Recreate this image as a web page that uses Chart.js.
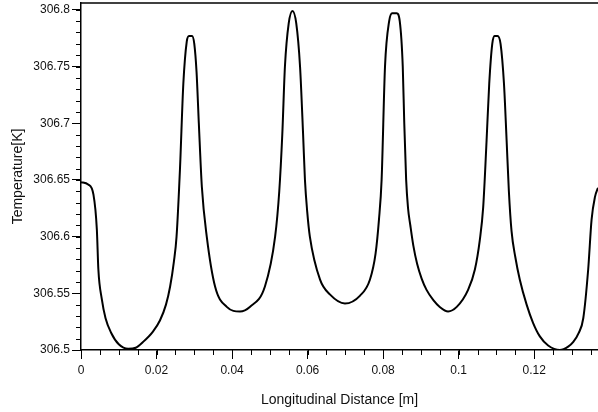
<!DOCTYPE html>
<html>
<head>
<meta charset="utf-8">
<script src="https://cdn.jsdelivr.net/npm/chart.js@4/dist/chart.umd.min.js"></script>
<style>
html,body{margin:0;padding:0;background:#fff;}
#c{display:block;}
</style>
</head>
<body>
<canvas id="c" width="598" height="412" style="width:598px;height:412px"></canvas>
<script>
// Longitudinal distance [m]
const distance = [0, 0.0019, 0.0033, 0.0042, 0.0046, 0.0055, 0.0065, 0.0080, 0.0100, 0.0125, 0.0145, 0.0164, 0.0190, 0.0209, 0.0225, 0.0236, 0.0246, 0.0253, 0.0262, 0.0271, 0.0280, 0.0286, 0.0294, 0.0300, 0.0306, 0.0312, 0.0320, 0.0333, 0.0355, 0.0386, 0.0421, 0.0447, 0.0487, 0.0514, 0.0525, 0.0533, 0.0540, 0.0550, 0.0560, 0.0570, 0.0580, 0.0588, 0.0593, 0.0599, 0.0606, 0.0633, 0.0659, 0.0699, 0.0739, 0.0765, 0.0780, 0.0789, 0.0796, 0.0805, 0.0816, 0.0824, 0.0836, 0.0844, 0.0852, 0.0856, 0.0861, 0.0866, 0.0872, 0.0880, 0.0890, 0.0902, 0.0915, 0.0933, 0.0950, 0.0972, 0.0995, 0.1025, 0.1043, 0.1056, 0.1065, 0.1074, 0.1081, 0.1089, 0.1095, 0.1103, 0.1111, 0.1120, 0.1127, 0.1133, 0.1140, 0.1150, 0.1162, 0.1180, 0.1197, 0.1215, 0.1237, 0.1268, 0.1290, 0.1303, 0.1318, 0.1330, 0.1343, 0.1352, 0.1361, 0.1369];
// Temperature [K]
const temperature = [306.648, 306.646, 306.637, 306.606, 306.571, 306.545, 306.528, 306.515, 306.505, 306.501, 306.502, 306.507, 306.516, 306.526, 306.540, 306.556, 306.578, 306.600, 306.659, 306.735, 306.772, 306.777, 306.777, 306.770, 306.745, 306.700, 306.644, 306.600, 306.556, 306.538, 306.534, 306.538, 306.556, 306.600, 306.640, 306.690, 306.750, 306.788, 306.799, 306.788, 306.750, 306.691, 306.650, 306.622, 306.600, 306.562, 306.549, 306.541, 306.548, 306.562, 306.585, 306.615, 306.650, 306.750, 306.790, 306.797, 306.797, 306.790, 306.750, 306.700, 306.650, 306.625, 306.610, 306.592, 306.576, 306.563, 306.553, 306.544, 306.538, 306.534, 306.538, 306.553, 306.571, 306.597, 306.626, 306.685, 306.735, 306.770, 306.777, 306.777, 306.770, 306.735, 306.685, 306.640, 306.605, 306.582, 306.562, 306.540, 306.524, 306.512, 306.504, 306.500, 306.503, 306.507, 306.515, 306.528, 306.571, 306.615, 306.635, 306.643];
const xTickValues = [0, 0.02, 0.04, 0.06, 0.08, 0.1, 0.12];
const yTickValues = [306.5, 306.55, 306.6, 306.65, 306.7, 306.75, 306.8];
const xMinorStep = 0.005;
const yMinorStep = 0.01;

const fmt = v => String(Number(Number(v).toFixed(4)));
const tickFont = {family: '"Liberation Sans", Arial, Helvetica, sans-serif', size: 12};
const titleFont = {family: '"Liberation Sans", Arial, Helvetica, sans-serif', size: 14};

const extras = {
  id: 'extras',
  afterDraw(chart) {
    const ctx = chart.ctx;
    const a = chart.chartArea;
    const xs = chart.scales.x, ys = chart.scales.y;
    ctx.save();
    ctx.strokeStyle = '#000';
    ctx.lineWidth = 1;
    ctx.beginPath();
    for (let v = xs.min; v <= xs.max + 1e-9; v += xMinorStep) {
      const p = Math.round(xs.getPixelForValue(v)) + 0.5;
      ctx.moveTo(p, a.bottom); ctx.lineTo(p, a.bottom + 5);
    }
    for (let v = ys.min; v <= ys.max + 1e-9; v += yMinorStep) {
      const p = Math.round(ys.getPixelForValue(v)) + 0.5;
      ctx.moveTo(a.left - 5, p); ctx.lineTo(a.left, p);
    }
    ctx.stroke();
    ctx.lineWidth = 1.5;
    ctx.beginPath();
    ctx.moveTo(a.left, a.top); ctx.lineTo(a.right, a.top);
    ctx.stroke();
    ctx.restore();
  }
};

new Chart(document.getElementById('c'), {
  type: 'line',
  data: {
    datasets: [{
      data: distance.map((x, i) => ({x: x, y: temperature[i]})),
      borderColor: '#000',
      borderWidth: 2,
      pointRadius: 0,
      fill: false,
      cubicInterpolationMode: 'monotone'
    }]
  },
  options: {
    responsive: false,
    animation: false,
    devicePixelRatio: 1,
    layout: {padding: {top: 3, right: 0, left: 0, bottom: 0}},
    plugins: {legend: {display: false}, tooltip: {enabled: false}},
    scales: {
      x: {
        type: 'linear', min: 0, max: 0.1369,
        afterBuildTicks: s => { s.ticks = xTickValues.map(v => ({value: v})); },
        afterFit: s => { s.height = 62; s.paddingLeft = 0; s.paddingRight = 0; },
        grid: {drawOnChartArea: false, drawTicks: true, tickLength: 9, color: '#000', lineWidth: 1},
        border: {color: '#000', width: 1.5},
        ticks: {font: tickFont, color: '#111', padding: 4, maxRotation: 0, autoSkip: false, callback: v => fmt(v)},
        title: {display: true, text: 'Longitudinal Distance [m]', font: titleFont, color: '#111', padding: {top: 0, bottom: 3}}
      },
      y: {
        type: 'linear', min: 306.5, max: 306.806,
        afterBuildTicks: s => { s.ticks = yTickValues.map(v => ({value: v})); },
        afterFit: s => { s.width = 81; s.paddingTop = 0; s.paddingBottom = 0; },
        grid: {drawOnChartArea: false, drawTicks: true, tickLength: 9, color: '#000', lineWidth: 1},
        border: {color: '#000', width: 1.5},
        ticks: {font: tickFont, color: '#111', padding: 2, autoSkip: false, callback: v => fmt(v)},
        title: {display: true, text: 'Temperature[K]', font: titleFont, color: '#111', padding: {top: 10, bottom: 0}}
      }
    }
  },
  plugins: [extras]
});
</script>
</body>
</html>
